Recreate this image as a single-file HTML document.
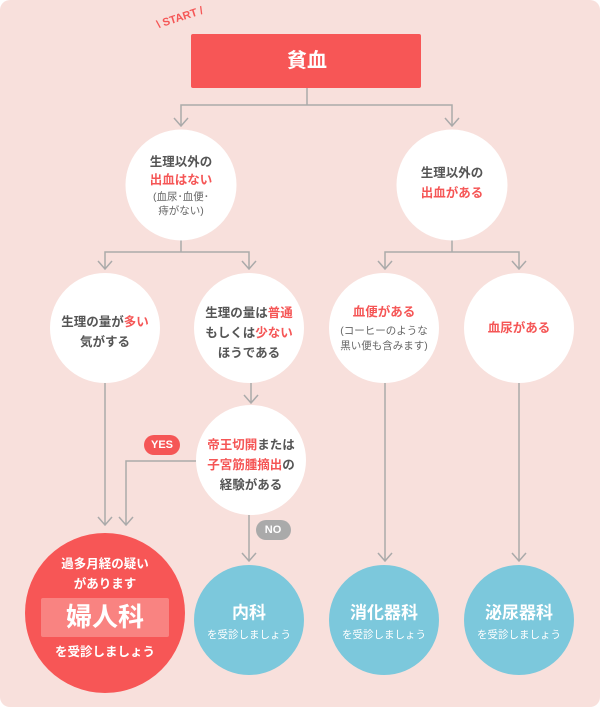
<!DOCTYPE html>
<html><head><meta charset="utf-8"><style>
html,body{margin:0;padding:0;background:#fff;}
svg{display:block;}
text{font-family:"Liberation Sans","Noto Sans CJK JP",sans-serif;text-anchor:middle;dominant-baseline:central;}
.g{fill:#555;font-weight:bold;font-size:12.5px;}
.r{fill:#f55656;}
.s{fill:#666;font-size:10.5px;font-weight:normal;}
.w{fill:#fff;font-weight:bold;}
</style></head><body>
<svg width="600" height="709" viewBox="0 0 600 709" xmlns="http://www.w3.org/2000/svg">
<rect x="0" y="0" width="600" height="707" rx="10" fill="#f8e0dc"/>
<g stroke="#aaa" stroke-width="1.5" fill="none">
<path d="M307 88V105M181 126V105H452V126"/>
<path d="M174 118L181 126L188 118M445 118L452 126L459 118"/>
<path d="M181 240V252M105 269V252H249V269M98 261L105 269L112 261M242 261L249 269L256 261"/>
<path d="M452 240V252M385 269V252H519V269M378 261L385 269L392 261M512 261L519 269L526 261"/>
<path d="M251 383V403M244 395L251 403L258 395"/>
<path d="M105 383V525M98 517L105 525L112 517"/>
<path d="M196 461H126V525M119 517L126 525L133 517"/>
<path d="M249 515V561M242 553L249 561L256 553"/>
<path d="M385 383V561M378 553L385 561L392 553"/>
<path d="M519 383V561M512 553L519 561L526 553"/>
</g>
<rect x="191" y="34" width="230" height="54" rx="2" fill="#f75656"/>
<text x="307" y="61" class="w" font-size="20">貧血</text>
<text x="180" y="18" fill="#f55656" font-size="11" font-weight="bold" transform="rotate(-18 180 18)">\ START /</text>
<circle cx="181" cy="185" r="55.5" fill="#fff"/>
<text x="181" y="162" class="g">生理以外の</text>
<text x="181" y="180" class="g r">出血はない</text>
<text x="181" y="197" class="s">(血尿･血便･</text>
<text x="181" y="211" class="s">痔がない)</text>
<circle cx="452" cy="185" r="55.5" fill="#fff"/>
<text x="452" y="173" class="g">生理以外の</text>
<text x="452" y="193" class="g r">出血がある</text>
<circle cx="105" cy="328" r="55" fill="#fff"/>
<text x="105" y="322" class="g">生理の量が<tspan class="r">多い</tspan></text>
<text x="105" y="342" class="g">気がする</text>
<circle cx="249" cy="328" r="55" fill="#fff"/>
<text x="249" y="313" class="g">生理の量は<tspan class="r">普通</tspan></text>
<text x="249" y="333" class="g">もしくは<tspan class="r">少ない</tspan></text>
<text x="249" y="353" class="g">ほうである</text>
<circle cx="384" cy="328" r="55" fill="#fff"/>
<text x="384" y="312" class="g r">血便がある</text>
<text x="384" y="331" class="s">(コーヒーのような</text>
<text x="384" y="346" class="s">黒い便も含みます)</text>
<circle cx="519" cy="328" r="55" fill="#fff"/>
<text x="519" y="328" class="g r">血尿がある</text>
<circle cx="251" cy="460" r="55" fill="#fff"/>
<text x="251" y="445" class="g"><tspan class="r">帝王切開</tspan>または</text>
<text x="251" y="465" class="g"><tspan class="r">子宮筋腫摘出</tspan>の</text>
<text x="251" y="485" class="g">経験がある</text>
<rect x="144" y="435" width="36" height="20" rx="10" fill="#f55656"/>
<text x="162" y="445" class="w" font-size="11">YES</text>
<rect x="256" y="520" width="35" height="20" rx="10" fill="#aaa"/>
<text x="273" y="530" class="w" font-size="11">NO</text>
<circle cx="105" cy="613" r="80" fill="#f75656"/>
<text x="105" y="564" class="w" font-size="12.5">過多月経の疑い</text>
<text x="105" y="584" class="w" font-size="12.5">があります</text>
<rect x="41" y="598" width="128" height="39" rx="2" fill="#f98381"/>
<text x="105" y="617" class="w" font-size="26">婦人科</text>
<text x="105" y="652" class="w" font-size="12.5">を受診しましょう</text>
<circle cx="249" cy="620" r="55" fill="#7cc8dc"/>
<text x="249" y="613" class="w" font-size="17">内科</text>
<text x="249" y="635" fill="#fff" font-size="10.5">を受診しましょう</text>
<circle cx="384" cy="620" r="55" fill="#7cc8dc"/>
<text x="384" y="613" class="w" font-size="17">消化器科</text>
<text x="384" y="635" fill="#fff" font-size="10.5">を受診しましょう</text>
<circle cx="519" cy="620" r="55" fill="#7cc8dc"/>
<text x="519" y="613" class="w" font-size="17">泌尿器科</text>
<text x="519" y="635" fill="#fff" font-size="10.5">を受診しましょう</text>
</svg>
</body></html>
